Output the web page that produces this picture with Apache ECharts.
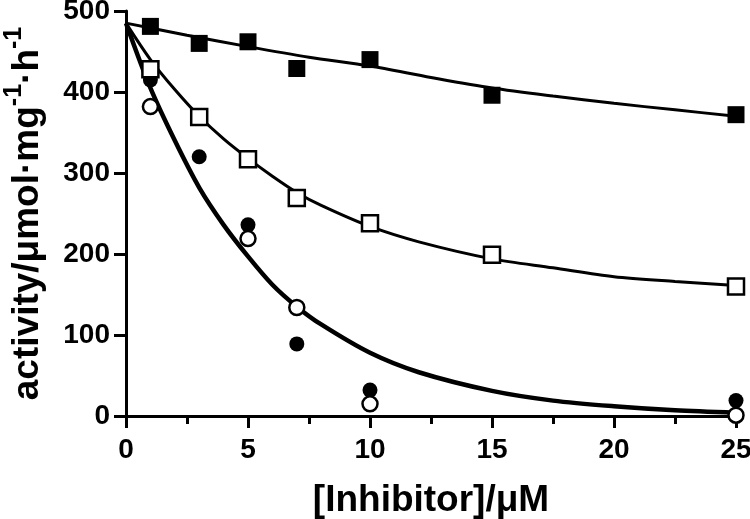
<!DOCTYPE html>
<html><head><meta charset="utf-8">
<script src="https://cdn.jsdelivr.net/npm/echarts@6/dist/echarts.min.js"></script>
<style>html,body{margin:0;padding:0;background:#fff}#c{width:750px;height:519px}</style>
</head><body><div id="c"></div>
<script>
// Measured points
var xFilledSq = [1, 3, 5, 7, 10, 15, 25];
var yFilledSq = [481, 460, 462, 429, 440, 396, 372];
var xOpenSq = [1, 3, 5, 7, 10, 15, 25];
var yOpenSq = [428, 369, 317, 269, 238, 199, 160];
var xFilledCirc = [1, 3, 5, 7, 10, 25];
var yFilledCirc = [415, 320, 236, 89, 32, 19];
var xOpenCirc = [1, 5, 7, 10, 25];
var yOpenCirc = [382, 219, 134, 15, 1];
// Fitted curves
var xFitTop = [0, 2.5, 5, 7.5, 10, 12.5, 15, 17.5, 20, 22.5, 25];
var yFitTop = [485, 470, 456, 443, 432, 418, 405, 395, 386, 378, 370];
var xFitMid = [0, 1, 2, 3, 4, 5, 6, 7, 8, 10, 12, 15, 17.5, 20, 22.5, 25];
var yFitMid = [485, 440, 403, 370, 342, 318, 296, 276, 260, 234, 215, 194, 183, 172, 166, 161];
var xFitLow = [0, 1, 2, 3, 4, 5, 6, 7, 8, 10, 12, 15, 17.5, 20, 22.5, 25];
var yFitLow = [485, 405, 340, 282, 236, 197, 162, 135, 113, 78, 54, 31, 19, 12, 7, 4];
var xTicks = [0, 5, 10, 15, 20, 25];
var yTicks = [0, 100, 200, 300, 400, 500];

function pairs(xs, ys) { return xs.map(function (x, i) { return [x, ys[i]]; }); }

var FONT = '"Liberation Sans", Arial, sans-serif';
var chart = echarts.init(document.getElementById('c'));
chart.setOption({
  backgroundColor: '#fff',
  animation: false,
  grid: { left: 126, right: 14, top: 11, bottom: 103, containLabel: false, outerBoundsMode: 'none' },
  xAxis: {
    type: 'value', min: xTicks[0], max: xTicks[xTicks.length - 1], interval: 5,
    name: '[Inhibitor]/μM', nameLocation: 'middle', nameGap: 66,
    nameTextStyle: { fontFamily: FONT, fontWeight: 'bold', fontSize: 37, color: '#000' },
    axisLine: { lineStyle: { color: '#000', width: 3 } },
    axisTick: { inside: false, length: 12, lineStyle: { color: '#000', width: 3 } },
    minorTick: { show: true, splitNumber: 2, length: 8, lineStyle: { color: '#000', width: 3 } },
    axisLabel: { fontFamily: FONT, fontWeight: 'bold', fontSize: 28, color: '#000', margin: 20 },
    splitLine: { show: false }
  },
  yAxis: {
    type: 'value', min: yTicks[0], max: yTicks[yTicks.length - 1], interval: 100,
    name: '{n|activity/μmol·mg}{sup|-1}{n|·h}{sup|-1}', nameLocation: 'middle', nameGap: 80,
    nameTextStyle: {
      fontFamily: FONT, fontWeight: 'bold', fontSize: 37, color: '#000',
      rich: {
        n: { fontFamily: FONT, fontWeight: 'bold', fontSize: 37, color: '#000', verticalAlign: 'bottom' },
        sup: { fontFamily: FONT, fontWeight: 'bold', fontSize: 25, color: '#000', verticalAlign: 'top', padding: [0, 0, 19, 0] }
      }
    },
    axisLine: { show: true, lineStyle: { color: '#000', width: 3 } },
    axisTick: { show: true, inside: false, length: 12, lineStyle: { color: '#000', width: 3 } },
    axisLabel: { fontFamily: FONT, fontWeight: 'bold', fontSize: 28, color: '#000', margin: 16 },
    splitLine: { show: false }
  },
  series: [
    { type: 'line', data: pairs(xFitTop, yFitTop), smooth: 0.3, showSymbol: false, lineStyle: { color: '#000', width: 3 }, z: 1 },
    { type: 'line', data: pairs(xFitMid, yFitMid), smooth: 0.3, showSymbol: false, lineStyle: { color: '#000', width: 3 }, z: 1 },
    { type: 'line', data: pairs(xFitLow, yFitLow), smooth: 0.3, showSymbol: false, lineStyle: { color: '#000', width: 4.5 }, z: 1 },
    { type: 'scatter', data: pairs(xFilledSq, yFilledSq), symbol: 'rect', symbolSize: 17, itemStyle: { color: '#000', opacity: 1 }, z: 3 },
    { type: 'scatter', data: pairs(xFilledCirc, yFilledCirc), symbol: 'circle', symbolSize: 15, itemStyle: { color: '#000', opacity: 1 }, z: 3 },
    { type: 'scatter', data: pairs(xOpenSq, yOpenSq), symbol: 'rect', symbolSize: 16, itemStyle: { color: '#fff', borderColor: '#000', borderWidth: 2.5, opacity: 1 }, z: 4 },
    { type: 'scatter', data: pairs(xOpenCirc, yOpenCirc), symbol: 'circle', symbolSize: 15, itemStyle: { color: '#fff', borderColor: '#000', borderWidth: 2.5, opacity: 1 }, z: 4 }
  ]
});
</script>
</body></html>
